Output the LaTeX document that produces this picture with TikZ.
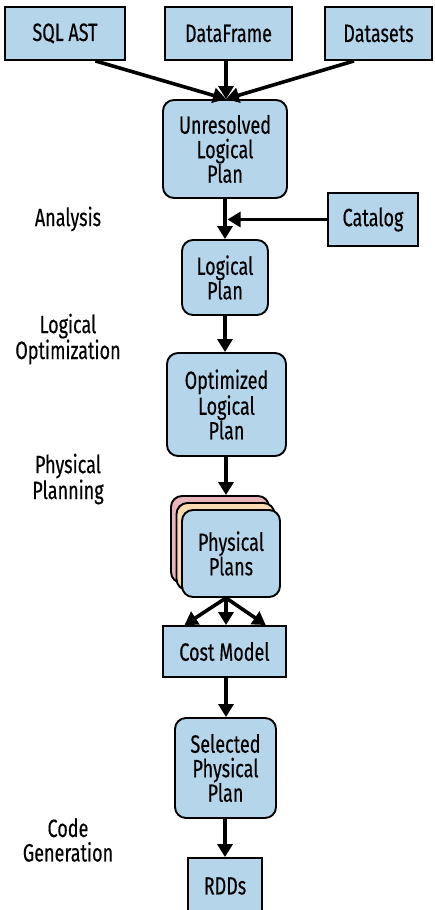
\documentclass[tikz,border=0pt]{standalone}
\usepackage{fontspec}
\setmainfont[FakeStretch=0.72,FakeBold=0.3]{Fira Sans}
\usetikzlibrary{%
  positioning
 ,arrows.meta
 ,calc
}
\definecolor{planblue}{RGB}{181,213,235}
\definecolor{planpink}{RGB}{232,182,186}
\definecolor{planpeach}{RGB}{250,218,176}
\tikzstyle{box}=[rectangle,draw=black,line width=1.9pt,fill=planblue,inner sep=0pt,align=center,font=\fontsize{25}{24.5}\selectfont]
\tikzstyle{rbox}=[box,rounded corners=11pt]
\tikzstyle{lbl}=[align=center,font=\fontsize{25}{24.5}\selectfont]
\tikzstyle{flow}=[line width=3.6pt,-{Triangle[length=13pt,width=15pt]}]

\begin{document}
\begin{tikzpicture}[x=1pt,y=-1pt]
      \useasboundingbox (0,0) rectangle (434,910);
      % sources
      \node[box,minimum width=120pt,minimum height=53pt] (sql) at (65,33.5) {SQL AST};
      \node[box,minimum width=127pt,minimum height=53pt] (df) at (228.5,33.5) {DataFrame};
      \node[box,minimum width=107pt,minimum height=53pt] (ds) at (378.5,33.5) {Datasets};
      % plans
      \node[rbox,minimum width=124pt,minimum height=98pt] (unres) at (225,149) {Unresolved\\Logical\\Plan};
      \node[box,minimum width=90pt,minimum height=53pt] (cat) at (373,219.5) {Catalog};
      \node[rbox,minimum width=86pt,minimum height=75pt] (lp) at (225,277.5) {Logical\\Plan};
      \node[rbox,minimum width=119pt,minimum height=103pt] (olp) at (226.5,404.5) {Optimized\\Logical\\Plan};
      \node[rbox,fill=planpink,minimum width=98pt,minimum height=87pt] (pp2) at (220,539.5) {};
      \node[rbox,fill=planpeach,minimum width=98pt,minimum height=87pt] (pp1) at (225.5,546.5) {};
      \node[rbox,minimum width=98pt,minimum height=87pt] (pp) at (231,553.5) {Physical\\Plans};
      \node[box,minimum width=123pt,minimum height=51pt] (cost) at (224.5,651.5) {Cost Model};
      \node[rbox,minimum width=101pt,minimum height=100pt] (spp) at (225.5,768) {Selected\\Physical\\Plan};
      \node[box,minimum width=74pt,minimum height=56pt] (rdd) at (225,886) {RDDs};
      % phase names
      \node[lbl] (ana) at (68,219) {Analysis};
      \node[lbl] (lopt) at (68,339) {Logical\\Optimization};
      \node[lbl] (ppl) at (68,479) {Physical\\Planning};
      \node[lbl] (cgen) at (68,840) {Code\\Generation};
      % joints
      \coordinate (top) at ($(unres.north)+(1,0)$);
      \coordinate (mid) at ($(cat.west -| lp.north)+(2.5,0)$);
      \coordinate (fan) at ($(pp.south)+(-5,0)$);
      \draw[flow] ($(sql.south east)!0.5!(sql.south)$) -- (top);
      \draw[flow] (df.south -| top) -- (top);
      \draw[flow] ($(ds.south west)!0.55!(ds.south)$) -- (top);
      \draw[flow] (unres.south -| lp.north) -- (lp.north);
      \draw[flow] (cat.west) -- (mid);
      \draw[flow] (lp.south) -- (lp.south |- olp.north);
      \draw[flow] (olp.south -| top) -- (top |- pp2.north);
      \draw[flow] (fan) -- ($(cost.north west)!0.18!(cost.north east)$);
      \draw[flow] (fan) -- (fan |- cost.north);
      \draw[flow] (fan) -- ($(cost.north west)!0.83!(cost.north east)$);
      \draw[flow] (cost.south -| top) -- (top |- spp.north);
      \draw[flow] (spp.south -| rdd.north) -- (rdd.north);
    \end{tikzpicture}
\end{document}
